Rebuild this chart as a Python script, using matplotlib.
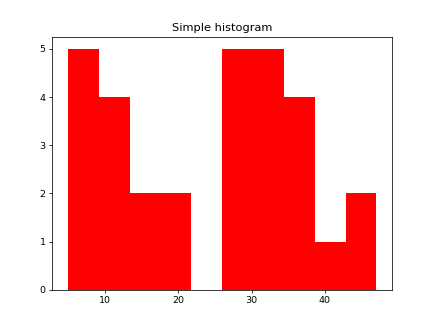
import matplotlib
matplotlib.use("Agg")
import matplotlib.pyplot as plt

# values (10 bins between 5 and 47)
data = [5, 6, 7, 8, 9,
        10, 11, 12, 13,
        15, 17,
        18, 20,
        26, 27, 28, 29, 30,
        31, 32, 33, 33, 34,
        35, 36, 37, 38,
        40,
        45, 47]
nbins = 10

dpi = 68.5
fig = plt.figure(figsize=(433 / dpi, 313 / dpi), dpi=dpi)
ax = fig.add_subplot(111)
fig.subplots_adjust(left=0.121, right=0.905, bottom=0.074, top=0.882)

ax.hist(data, bins=nbins, color='red')
ax.set_title("Simple histogram")

fig.savefig("out.png", dpi=dpi)
